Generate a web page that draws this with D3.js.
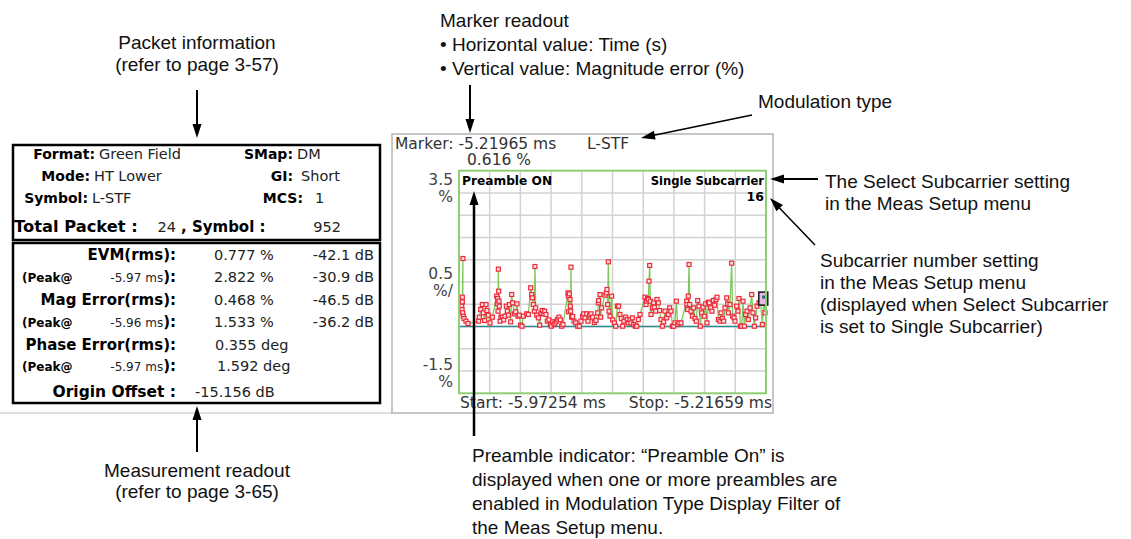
<!DOCTYPE html>
<html>
<head>
<meta charset="utf-8">
<script src="https://cdnjs.cloudflare.com/ajax/libs/d3/7.8.5/d3.min.js"></script>
<style>
body { margin: 0; background: #fff; }
</style>
</head>
<body>
<svg id="visual" width="1131" height="539"></svg>
<script>
// sweep limits and marker (ms / %)
var startMs = -5.97254;
var stopMs = -5.21659;
var markerMs = -5.21965;
var markerPct = 0.616;
var modType = "L-STF";

// vertical scale: top, per division, bottom
var yLabels = ["3.5", "0.5", "-1.5"];
var yUnits = ["%", "%/", "%"];
var yTop = 3.5, yBottom = -1.5, yDivs = 10, xDivs = 10;

// magnitude error per symbol: time offset from start (us) and value (%)
var offsetUs = [6.6, 7.4, 8.2, 8.2, 9.8, 9.0, 10.7, 12.3, 17.2, 22.2,
	48.4, 50.1, 53.4, 57.5, 59.9, 63.2, 66.5, 68.9, 72.2, 76.3, 82.1,
	92.8, 94.4, 95.2, 96.0, 96.9, 97.7, 98.5, 99.3, 101.0, 103.4, 106.7, 110.0, 113.3, 116.6, 119.0, 121.5, 123.9, 127.2, 129.7, 132.1, 136.3, 139.5, 142.8, 145.3, 148.6, 151.8, 155.1, 158.4,
	166.6, 170.7, 176.5, 178.9, 180.6, 183.0, 185.5, 187.1, 188.8, 191.2, 195.4, 198.6, 201.9, 205.2, 208.5, 210.9, 214.2, 217.5, 221.6, 224.9, 227.4, 230.6, 233.9, 236.4, 239.7, 243.0, 246.2, 249.5, 252.8, 256.1,
	268.4, 269.2, 270.0, 271.7, 273.3, 274.1, 275.0, 275.8, 277.4, 279.9, 283.2, 287.3, 292.2, 296.3, 300.4, 304.5, 307.0, 310.3, 314.4, 317.6, 321.8, 325.0, 329.1, 333.2, 337.3, 341.5,
	343.1, 343.9, 347.2, 348.8, 351.3, 359.5, 362.8, 364.4, 366.1, 367.7, 369.4, 371.8, 375.9, 378.4, 382.5, 385.8, 389.9, 393.2, 396.4, 399.7, 403.0, 406.3, 410.4, 414.5, 417.0, 421.1, 423.5, 426.8, 430.1, 434.2, 437.5, 441.6, 445.7,
	458.0, 460.5, 461.3, 464.6, 466.2, 467.9, 469.5, 471.1, 472.8, 476.1, 479.3, 481.0, 484.3, 487.6, 490.8, 494.1, 497.4, 500.7, 504.0, 507.3, 511.4, 515.5, 518.7, 522.0, 525.3, 528.6, 531.9, 535.2, 538.4, 541.7, 546.7,
	560.6, 561.4, 562.2, 563.1, 564.7, 566.4, 568.0, 571.3, 574.6, 577.8, 581.1, 584.4, 587.7, 591.0, 594.3, 597.5, 600.8, 604.1, 607.4, 610.7, 614.0, 616.4, 619.7, 623.0, 626.3, 629.6, 632.8, 635.3, 638.6,
	642.7, 645.2, 648.4, 651.7, 655.0, 659.1, 661.6, 663.2, 667.3, 671.4, 673.9, 677.2, 679.6, 683.7, 687.0, 689.5, 692.8, 696.0, 699.3, 702.6, 705.9, 709.2, 712.5, 716.6, 720.7, 723.9, 727.2, 730.5, 733.8, 738.7, 742.8, 746.9, 751.0, 753.5];
var magErr = [0.457, 0.382, 0.554, 0.659, 1.528, 0.307, 0.232, 0.180, 0.120, 0.067,
	0.120, 0.210, 0.382, 0.494, 0.307, 0.135, 0.494, 0.360, 0.255, 0.082, 0.210,
	0.682, 0.509, 0.629, 0.345, 1.288, 0.794, 0.569, 0.457, 0.120, 0.210, 0.210, 0.150, 0.232, 0.457, 0.345, 0.255, 0.494, 0.105, 0.719, 0.532, 0.285, 0.330, 0.509, 0.232, 0.255, 0.030, 0.007, 0.232,
	0.285, 0.270, 0.869, 0.719, 0.644, 0.494, 0.345, 1.348, 0.419, 0.255, 0.195, 0.030, 0.307, 0.360, 0.285, 0.345, 0.270, 0.120, 0.150, 0.045, 0.007, 0.105, 0.045, 0.075, 0.120, 0.165, 0.210, 0.150, 0.007, 0.045,
	0.756, 0.682, 0.330, 0.734, 0.607, 0.457, 0.345, 1.333, 0.210, 0.225, 0.120, 0.082, 0.007, 0.007, 0.120, 0.232, 0.285, 0.195, 0.285, 0.120, 0.255, 0.285, 0.210, 0.090, 0.135, 0.307,
	0.532, 0.584, 0.719, 0.210, 0.419, 0.704, 0.756, 0.831, 0.494, 1.453, 0.345, 0.232, 0.682, 0.150, 0.082, 0.007, 0.457, 0.457, 0.270, 0.180, 0.007, 0.120, 0.210, 0.157, 0.082, 0.150, 0.082, 0.195, 0.045, 0.007, 0.007, 0.157, 0.270,
	0.659, 0.494, 0.569, 0.629, 0.607, 1.019, 1.371, 0.569, 0.270, 0.419, 0.532, 0.434, 0.345, 0.607, 0.532, 0.360, 0.157, 0.007, 0.105, 0.345, 0.195, 0.270, 0.419, 0.345, 0.007, 0.007, 0.082, 0.569, 0.045, 0.082, 0.082,
	0.569, 0.494, 0.419, 0.382, 0.682, 1.393, 0.494, 0.345, 0.232, 0.419, 0.180, 0.120, 0.584, 0.457, 0.007, 0.307, 0.434, 0.232, 0.509, 0.082, 0.547, 0.532, 0.419, 0.345, 0.584, 0.479, 0.607, 0.659, 0.157,
	0.120, 0.307, 0.180, 0.120, 0.419, 0.644, 0.509, 0.307, 0.494, 1.423, 0.232, 0.195, 0.120, 0.457, 0.345, 0.629, 0.007, 0.007, 0.569, 0.007, 0.270, 0.345, 0.157, 0.419, 0.719, 0.307, 0.007, 0.195, 0.457, 0.532, 0.532, 0.045, 0.644, 0.307];

// packet information table
var pktLeftLabels = ["Format:", "Mode:", "Symbol:"];
var pktLeftValues = ["Green Field", "HT Lower", "L-STF"];
var pktRightLabels = ["SMap:", "GI:", "MCS:"];
var pktRightValues = ["DM", "Short", "1"];
var totalPacket = "24", totalSymbol = "952";

// measurement readout table
var measLabels = ["EVM(rms):", "Mag Error(rms):", "Phase Error(rms):"];
var measValues = ["0.777 %", "0.468 %", "0.355 deg"];
var measDb = ["-42.1 dB", "-46.5 dB", ""];
var peakTimes = ["-5.97 ms", "-5.96 ms", "-5.97 ms"];
var peakValues = ["2.822 %", "1.533 %", "1.592 deg"];
var peakDb = ["-30.9 dB", "-36.2 dB", ""];
var originOffset = "-15.156 dB";

var svg = d3.select("#visual");
var uiFont = "'DejaVu Sans', Verdana, sans-serif";
var noteFont = "'Liberation Sans', Arial, Helvetica, sans-serif";

function txt(x, y, s, size, weight, anchor, color, font) {
	return svg.append("text")
		.attr("x", x)
		.attr("y", y)
		.attr("font-family", font || uiFont)
		.attr("font-size", size)
		.attr("font-weight", weight || "normal")
		.attr("text-anchor", anchor || "start")
		.attr("fill", color || "#000")
		.text(s);
}

function note(x, y, lines, lineH, anchor) {
	var t = svg.append("text")
		.attr("x", x)
		.attr("y", y)
		.attr("font-family", noteFont)
		.attr("font-size", 19)
		.attr("text-anchor", anchor || "start")
		.attr("fill", "#111");
	lines.forEach(function (l, i) {
		t.append("tspan").attr("x", x).attr("dy", i === 0 ? 0 : lineH).text(l);
	});
}

function arrow(x1, y1, x2, y2, w) {
	var a = Math.atan2(y2 - y1, x2 - x1);
	var len = 14, half = 4.5;
	var bx = x2 - len * Math.cos(a), by = y2 - len * Math.sin(a);
	svg.append("line")
		.attr("x1", x1).attr("y1", y1)
		.attr("x2", bx + 2 * Math.cos(a)).attr("y2", by + 2 * Math.sin(a))
		.attr("stroke", "#000")
		.attr("stroke-width", w || 2);
	svg.append("polygon")
		.attr("points", [
			[x2, y2],
			[bx + half * Math.sin(a), by - half * Math.cos(a)],
			[bx - half * Math.sin(a), by + half * Math.cos(a)]
		].map(function (p) { return p.join(","); }).join(" "))
		.attr("fill", "#000");
}

// ---------- left panel ----------
note(197, 49, ["Packet information", "(refer to page 3-57)"], 22, "middle");
arrow(197, 90, 197, 138, 2);

svg.append("line").attr("x1", 0).attr("x2", 392).attr("y1", 413).attr("y2", 413)
	.attr("stroke", "#d4d4d4").attr("stroke-width", 1.5);

svg.append("rect").attr("x", 13).attr("y", 145).attr("width", 367).attr("height", 95)
	.attr("fill", "none").attr("stroke", "#000").attr("stroke-width", 2.5);
svg.append("rect").attr("x", 13).attr("y", 243).attr("width", 367).attr("height", 160)
	.attr("fill", "#fff").attr("stroke", "#000").attr("stroke-width", 2.5);

var rowY = [159, 181, 203];
var leftEnd = [95, 90, 88];
var rightEnd = [293, 293, 303];
var rightVal = [297, 301, 315];
for (var i = 0; i < 3; ++i) {
	txt(leftEnd[i], rowY[i], pktLeftLabels[i], 14, "bold", "end");
	txt(leftEnd[i] + 4, rowY[i], pktLeftValues[i], 14.5, "normal", "start", "#222");
	txt(rightEnd[i], rowY[i], pktRightLabels[i], 14, "bold", "end");
	txt(rightVal[i], rowY[i], pktRightValues[i], 14.5, "normal", "start", "#222");
}
txt(14, 232, "Total Packet :", 16.3, "bold");
txt(176, 232, totalPacket, 14.5, "normal", "end", "#222");
txt(181, 232, ", Symbol :", 15, "bold");
txt(341, 232, totalSymbol, 14.5, "normal", "end", "#222");

var measY = [260, 305, 350];
var peakY = [282, 327, 371];
var valX = [214, 214, 215];
for (i = 0; i < 3; ++i) {
	txt(176, measY[i], measLabels[i], 15, "bold", "end");
	txt(valX[i], measY[i], measValues[i], 14.5, "normal", "start", "#222");
	if (measDb[i]) txt(374, measY[i], measDb[i], 14.5, "normal", "end", "#222");
	txt(22, peakY[i], "(Peak@", 12, "bold");
	var pk = txt(176, peakY[i], "", 15, "bold", "end");
	pk.append("tspan").attr("font-size", 12).attr("font-weight", "normal").attr("fill", "#222").text(peakTimes[i]);
	pk.append("tspan").text("):");
	txt(valX[i] + (i === 2 ? 2 : 0), peakY[i], peakValues[i], 14.5, "normal", "start", "#222");
	if (peakDb[i]) txt(374, peakY[i], peakDb[i], 14.5, "normal", "end", "#222");
}
txt(176, 397, "Origin Offset :", 15.5, "bold", "end");
txt(195, 397, originOffset, 14.5, "normal", "start", "#222");

arrow(197, 452, 197, 406, 2);
note(197, 477, ["Measurement readout", "(refer to page 3-65)"], 21, "middle");

// ---------- center: magnitude error vs time ----------
svg.append("rect").attr("x", 392).attr("y", 134).attr("width", 381).attr("height", 279)
	.attr("fill", "#fff").attr("stroke", "#b4b4b4").attr("stroke-width", 1.5);

var x = d3.scaleLinear().domain([startMs, stopMs]).range([459, 766]);
var y = d3.scaleLinear().domain([yBottom, yTop]).range([393.3, 170.7]);

var xGrid = d3.range(1, xDivs).map(function (k) { return startMs + k * (stopMs - startMs) / xDivs; });
var yGrid = d3.range(1, yDivs).map(function (k) { return yBottom + k * (yTop - yBottom) / yDivs; });

var plot = svg.append("g");
plot.selectAll(".vg").data(xGrid).enter().append("line")
	.attr("x1", function (d) { return x(d); }).attr("x2", function (d) { return x(d); })
	.attr("y1", y(yBottom)).attr("y2", y(yTop))
	.attr("stroke", "#d2d2d2").attr("stroke-width", 1.5);
plot.selectAll(".hg").data(yGrid).enter().append("line")
	.attr("x1", x(startMs)).attr("x2", x(stopMs))
	.attr("y1", function (d) { return y(d); }).attr("y2", function (d) { return y(d); })
	.attr("stroke", "#d2d2d2").attr("stroke-width", 1.5);

// zero reference
plot.append("line")
	.attr("x1", x(startMs)).attr("x2", x(stopMs))
	.attr("y1", y(0)).attr("y2", y(0))
	.attr("stroke", "#2f8a8f").attr("stroke-width", 1.5);

var pts = offsetUs.map(function (t, k) { return { t: startMs + t / 1000, v: magErr[k] }; });
var line = d3.line().x(function (d) { return x(d.t); }).y(function (d) { return y(d.v); });
plot.append("path").datum(pts)
	.attr("d", line)
	.attr("fill", "none")
	.attr("stroke", "#7cc95a")
	.attr("stroke-width", 1.3);
plot.selectAll(".pt").data(pts).enter().append("rect")
	.attr("x", function (d) { return x(d.t) - 2; })
	.attr("y", function (d) { return y(d.v) - 2; })
	.attr("width", 4).attr("height", 4)
	.attr("fill", "#ffe0e0")
	.attr("stroke", "#ec2a3a")
	.attr("stroke-width", 1.2);

// marker
plot.append("rect")
	.attr("x", x(markerMs) - 6).attr("y", y(markerPct) - 7)
	.attr("width", 9).attr("height", 13)
	.attr("fill", "#eab8e4").attr("stroke", "#222").attr("stroke-width", 1.6);
plot.append("circle")
	.attr("cx", x(markerMs) - 1).attr("cy", y(markerPct) - 2).attr("r", 1.8)
	.attr("fill", "#1d6f73");

plot.append("rect")
	.attr("x", x(startMs)).attr("y", y(yTop))
	.attr("width", x(stopMs) - x(startMs)).attr("height", y(yBottom) - y(yTop))
	.attr("fill", "none").attr("stroke", "#8fce74").attr("stroke-width", 2);

// readouts
txt(395, 149, "Marker: " + markerMs.toFixed(5) + " ms", 15.5, "normal", "start", "#333");
txt(587, 149, modType, 15.5, "normal", "start", "#333");
txt(467, 165, markerPct.toFixed(3) + " %", 15.5, "normal", "start", "#333");
txt(462, 185, "Preamble ON", 12.2, "bold");
txt(764, 185, "Single Subcarrier", 11.6, "bold", "end");
txt(764, 201, "16", 12.5, "bold", "end");

var yLabelPos = [y(yTop) + 14, y((yTop + yBottom) / 2) - 3, y(yBottom) - 23];
for (i = 0; i < 3; ++i) {
	txt(453, yLabelPos[i], yLabels[i], 15.5, "normal", "end", "#444");
	txt(453, yLabelPos[i] + 17, yUnits[i], 15.5, "normal", "end", "#444");
}
txt(460, 408, "Start: " + startMs.toFixed(5) + " ms", 15.5, "normal", "start", "#333");
txt(772, 408, "Stop: " + stopMs.toFixed(5) + " ms", 15.5, "normal", "end", "#333");

// ---------- callouts ----------
note(440, 27, ["Marker readout", "\u2022 Horizontal value: Time (s)", "\u2022 Vertical value: Magnitude error (%)"], 24);
arrow(470, 85, 470, 133, 2);

note(758, 108, ["Modulation type"], 22);
arrow(752, 115, 641, 138, 1.5);

note(825, 188, ["The Select Subcarrier setting", "in the Meas Setup menu"], 22);
arrow(818, 179, 770, 179, 2);

note(820, 267, ["Subcarrier number setting", "in the Meas Setup menu", "(displayed when Select Subcarrier", "is set to Single Subcarrier)"], 22);
arrow(815, 245, 770, 198, 1.5);

arrow(474, 436, 474, 191, 2.5);
note(472, 462, ["Preamble indicator: \u201cPreamble On\u201d is", "displayed when one or more preambles are", "enabled in Modulation Type Display Filter of", "the Meas Setup menu."], 24);
</script>
</body>
</html>
